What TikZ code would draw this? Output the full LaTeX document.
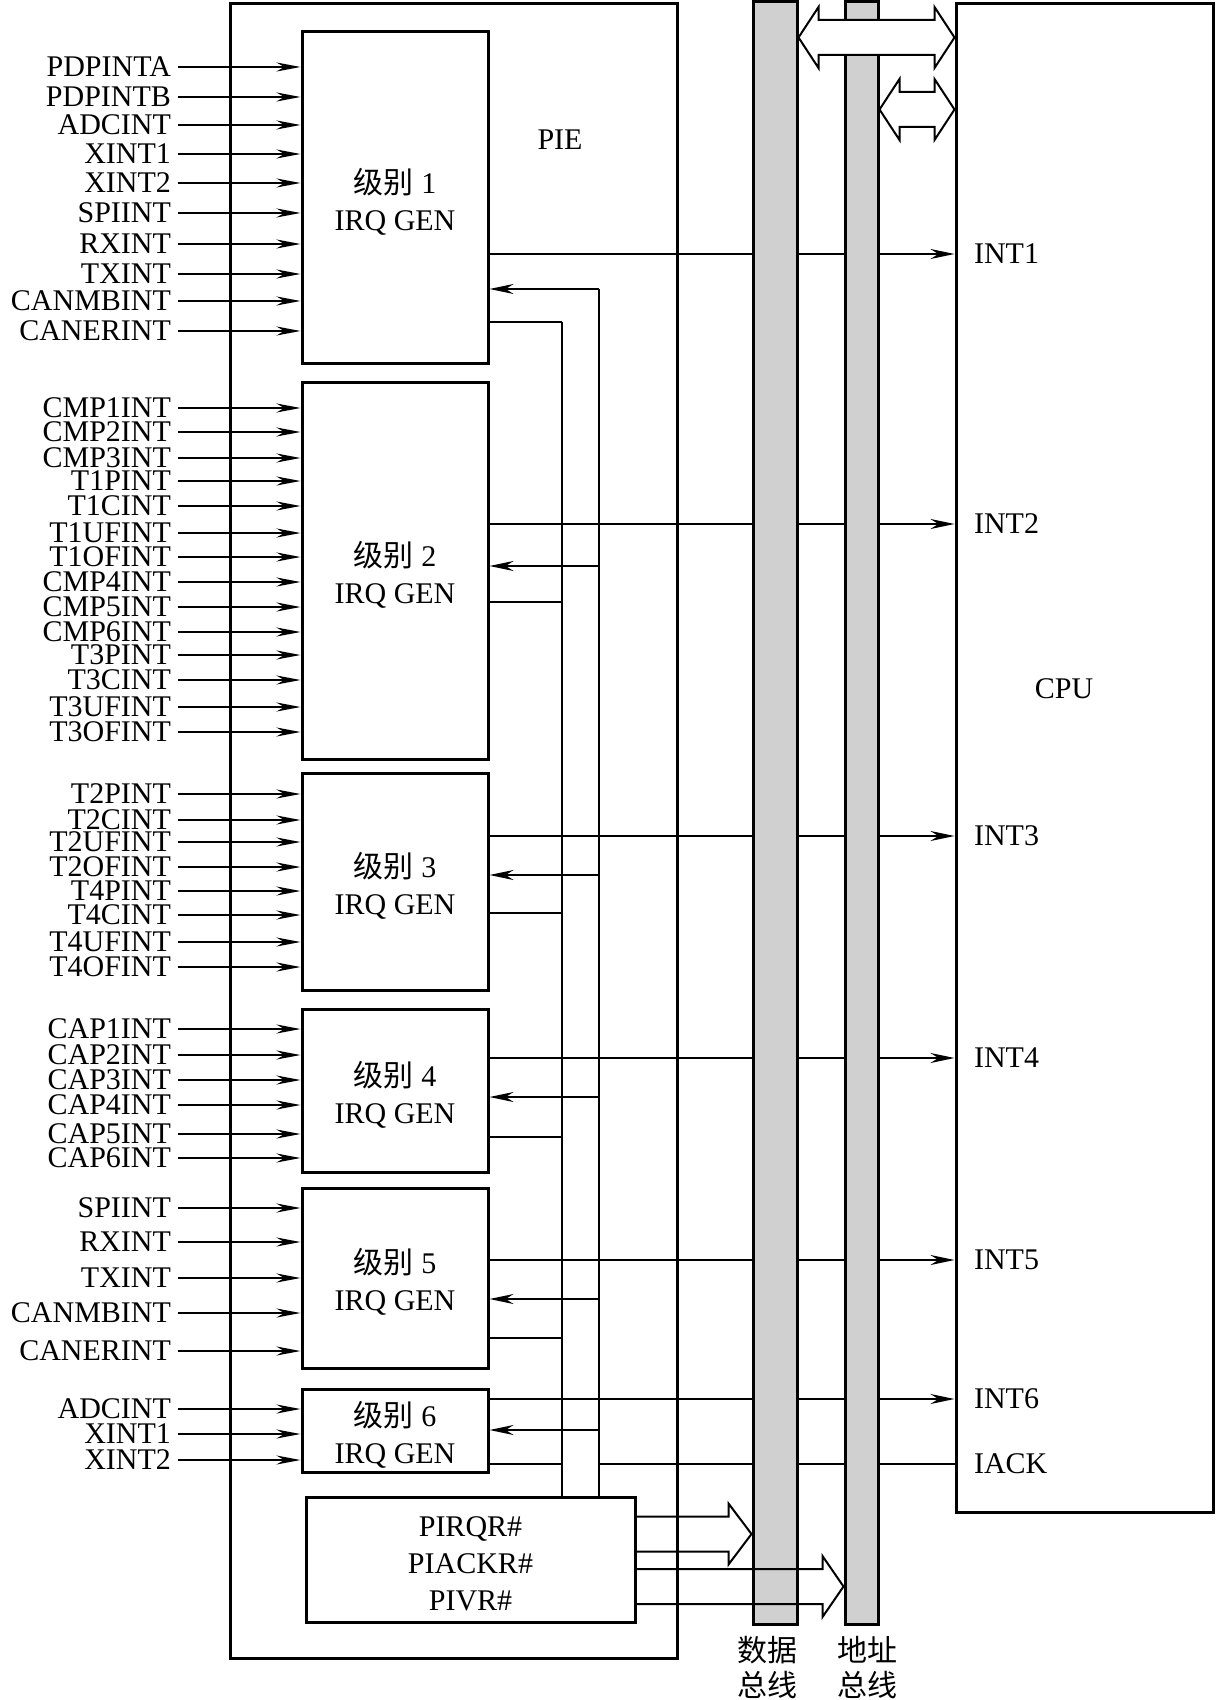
\documentclass[tikz,border=0pt]{standalone}
\usepackage{fontspec}
\setmainfont{Liberation Serif}
\newfontfamily\cjk{Noto Sans CJK SC}
\usetikzlibrary{arrows.meta,positioning,fit,calc}
\definecolor{BusFill}{HTML}{D0D0D0}
\tikzstyle{BlockFrame} =[draw,line width=1.5pt,inner sep=0pt]
\tikzstyle{BlockText} =[align=center,inner sep=0pt,yshift=-2pt]
\tikzstyle{BusBar} =[draw,line width=1.5pt,fill=BusFill,inner sep=0pt]
\tikzstyle{BusLabel} =[align=center,inner sep=1pt,font={\fontsize{15}{17.5}\selectfont\cjk}]
\tikzstyle{SourceLabel} =[anchor=east,inner ysep=0pt]
\tikzstyle{PortLabel} =[anchor=west]
\tikzstyle{InputArrow} =[line width=1pt,-{Stealth[length=12pt,width=4.5pt]}]
\tikzstyle{SignalArrow} =[line width=1pt,-{Stealth[length=12pt,width=5pt]}]
\tikzstyle{SignalLine} =[line width=1pt]
\tikzstyle{TapLine} =[line width=0.7pt]
\tikzstyle{WideArrow} =[draw,line width=1pt,line join=miter]

\begin{document}
\begin{tikzpicture}[x=0.5pt,y=-0.5pt,font=\fontsize{15}{18.5}\selectfont]
\useasboundingbox (0,0) rectangle (1216,1700);
\node[BlockFrame,fit={(230,4) (677,1658)}](PIE){};
\node at (560,140)(PIELabel){PIE};
\node[BlockFrame,fit={(956,4) (1213,1512)}](CPU){};
\node at (1064,689)(CPULabel){CPU};
\foreach \lvl/\yA/\yB in {1/32/364,2/383/759,3/773/990,4/1009/1172,5/1188/1368,6/1389/1472}{
  \node[BlockFrame,fit={(302,\yA) (488,\yB)}](Level-\lvl){};
  \node[BlockText] at (Level-\lvl.center)(LevelText-\lvl){{\cjk 级别} \lvl\\IRQ GEN};
}
\node[BlockFrame,fit={(306,1497) (635,1622)}](VectorRegs){};
\node[BlockText] at (VectorRegs.center)(VectorText){PIRQR\#\\PIACKR\#\\PIVR\#};
\foreach \src/\y [count=\i] in {PDPINTA/67,PDPINTB/97,ADCINT/125,XINT1/154,XINT2/183,SPIINT/213,RXINT/244,TXINT/274,CANMBINT/301,CANERINT/331}{
  \node[SourceLabel] at (178,\y)(In-1-\i){\src};
  \draw[InputArrow] (In-1-\i.east) -- (In-1-\i.east -| Level-1.west);
}
\foreach \src/\y [count=\i] in {CMP1INT/408,CMP2INT/432,CMP3INT/458,T1PINT/481,T1CINT/506,T1UFINT/533,T1OFINT/557,CMP4INT/582,CMP5INT/607,CMP6INT/632,T3PINT/655,T3CINT/680,T3UFINT/707,T3OFINT/732}{
  \node[SourceLabel] at (178,\y)(In-2-\i){\src};
  \draw[InputArrow] (In-2-\i.east) -- (In-2-\i.east -| Level-2.west);
}
\foreach \src/\y [count=\i] in {T2PINT/794,T2CINT/820,T2UFINT/842,T2OFINT/867,T4PINT/891,T4CINT/915,T4UFINT/942,T4OFINT/967}{
  \node[SourceLabel] at (178,\y)(In-3-\i){\src};
  \draw[InputArrow] (In-3-\i.east) -- (In-3-\i.east -| Level-3.west);
}
\foreach \src/\y [count=\i] in {CAP1INT/1029,CAP2INT/1055,CAP3INT/1080,CAP4INT/1105,CAP5INT/1134,CAP6INT/1158}{
  \node[SourceLabel] at (178,\y)(In-4-\i){\src};
  \draw[InputArrow] (In-4-\i.east) -- (In-4-\i.east -| Level-4.west);
}
\foreach \src/\y [count=\i] in {SPIINT/1208,RXINT/1242,TXINT/1278,CANMBINT/1313,CANERINT/1351}{
  \node[SourceLabel] at (178,\y)(In-5-\i){\src};
  \draw[InputArrow] (In-5-\i.east) -- (In-5-\i.east -| Level-5.west);
}
\foreach \src/\y [count=\i] in {ADCINT/1409,XINT1/1434,XINT2/1460}{
  \node[SourceLabel] at (178,\y)(In-6-\i){\src};
  \draw[InputArrow] (In-6-\i.east) -- (In-6-\i.east -| Level-6.west);
}
\foreach \lvl/\yo/\yf/\yr in {1/254/289/322,2/524/566/602,3/836/875/913,4/1058/1097/1137,5/1260/1299/1338,6/1399/1430/1464}{
  \node[PortLabel] at (967,\yo)(INT\lvl){INT\lvl};
  \draw[SignalArrow] (INT\lvl.west -| Level-\lvl.east) -- (INT\lvl.west -| CPU.west);
  \coordinate (Ack-\lvl) at (599,\yf);
  \coordinate (Req-\lvl) at (562,\yr);
  \draw[SignalArrow] (Ack-\lvl) -- (Ack-\lvl -| Level-\lvl.east);
  \draw[SignalLine] (Level-\lvl.east |- Req-\lvl) -- (Req-\lvl);
}
\draw[TapLine] (Req-1) -- (Req-1 |- VectorRegs.north);
\draw[TapLine] (Ack-1) -- (Ack-1 |- VectorRegs.north);
\node[PortLabel] at (967,1464)(IACK){IACK};
\draw[SignalLine] (IACK.west -| Ack-1) -- (IACK.west -| CPU.west);
\node[BusBar,fit={(753,2) (797,1624)}](DataBus){};
\node[BusBar,fit={(845,2) (878,1624)}](AddrBus){};
\node[BusLabel,below=4pt of DataBus,xshift=-4pt](DataBusLabel){数据\\总线};
\node[BusLabel,below=4pt of AddrBus,xshift=3pt](AddrBusLabel){地址\\总线};
\coordinate (DataTip) at (DataBus.west |- 0,1534);
\coordinate (AddrTip) at (AddrBus.west |- 0,1586.5);
\draw[WideArrow] ($(DataTip -| VectorRegs.east)+(0,-17.5)$) -- ($(DataTip)+(-23,-17.5)$) -- ($(DataTip)+(-23,-30.5)$) -- (DataTip) -- ($(DataTip)+(-23,30.5)$) -- ($(DataTip)+(-23,17.5)$) -- ($(DataTip -| VectorRegs.east)+(0,17.5)$);
\draw[WideArrow] ($(AddrTip -| VectorRegs.east)+(0,-17.5)$) -- ($(AddrTip)+(-21,-17.5)$) -- ($(AddrTip)+(-21,-30.5)$) -- (AddrTip) -- ($(AddrTip)+(-21,30.5)$) -- ($(AddrTip)+(-21,17.5)$) -- ($(AddrTip -| VectorRegs.east)+(0,17.5)$);
\coordinate (DataLink) at (DataBus.east |- 0,37.5);
\coordinate (DataLinkCPU) at (CPU.west |- 0,37.5);
\coordinate (AddrLink) at (AddrBus.east |- 0,109.5);
\coordinate (AddrLinkCPU) at (CPU.west |- 0,109.5);
\draw[WideArrow,fill=white] (DataLink) -- ($(DataLink)+(20,-30.5)$) -- ($(DataLink)+(20,-17.5)$) -- ($(DataLinkCPU)+(-20,-17.5)$) -- ($(DataLinkCPU)+(-20,-30.5)$) -- (DataLinkCPU) -- ($(DataLinkCPU)+(-20,30.5)$) -- ($(DataLinkCPU)+(-20,17.5)$) -- ($(DataLink)+(20,17.5)$) -- ($(DataLink)+(20,30.5)$) -- cycle;
\draw[WideArrow,fill=white] (AddrLink) -- ($(AddrLink)+(20,-30.5)$) -- ($(AddrLink)+(20,-17.5)$) -- ($(AddrLinkCPU)+(-20,-17.5)$) -- ($(AddrLinkCPU)+(-20,-30.5)$) -- (AddrLinkCPU) -- ($(AddrLinkCPU)+(-20,30.5)$) -- ($(AddrLinkCPU)+(-20,17.5)$) -- ($(AddrLink)+(20,17.5)$) -- ($(AddrLink)+(20,30.5)$) -- cycle;
\end{tikzpicture}
\end{document}
